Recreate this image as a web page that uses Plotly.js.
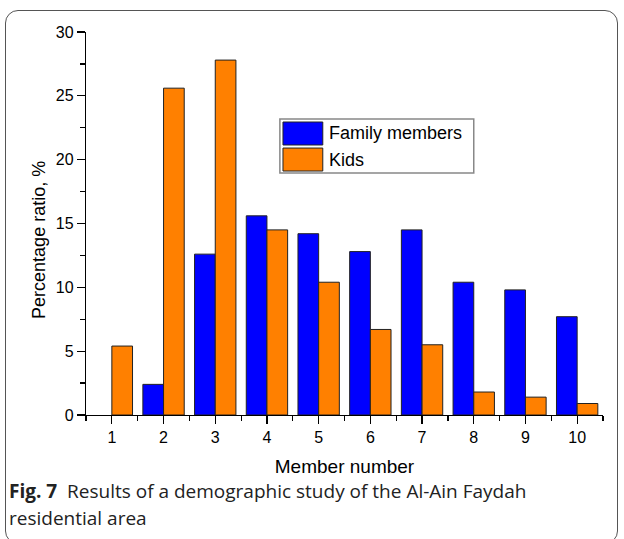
<!DOCTYPE html>
<html>
<head>
<meta charset="utf-8">
<script src="https://cdn.plot.ly/plotly-3.0.1.min.js"></script>
<style>
html,body{margin:0;padding:0;background:#fff;}
#frame{position:absolute;left:5px;top:10px;width:613px;height:534px;border:1px solid #555;border-radius:13px;box-sizing:border-box;}
#chart{position:absolute;left:0;top:0;width:624px;height:539px;}
</style>
</head>
<body>
<div id="frame"></div>
<div id="chart"></div>
<script>
const memberNumbers = [1, 2, 3, 4, 5, 6, 7, 8, 9, 10];
const familyMembers = [0, 2.4, 12.6, 15.6, 14.2, 12.8, 14.5, 10.4, 9.8, 7.7];
const kids = [5.4, 25.6, 27.8, 14.5, 10.4, 6.7, 5.5, 1.8, 1.4, 0.9];
const seriesNames = ["Family members", "Kids"];
const seriesColors = ["#0000FF", "#FF8000"];

const arial = "Arial, 'Liberation Sans', sans-serif";
const axisFont = {family: arial, size: 16, color: "#000"};
const outlineWidths = v => v.map(d => (d === 0 ? 0 : 1));

const traces = [
  {type: "bar", x: memberNumbers, y: familyMembers, name: seriesNames[0],
   marker: {color: seriesColors[0], line: {color: "#222", width: outlineWidths(familyMembers)}}, showlegend: false},
  {type: "bar", x: memberNumbers, y: kids, name: seriesNames[1],
   marker: {color: seriesColors[1], line: {color: "#222", width: outlineWidths(kids)}}, showlegend: false}
];

const layout = {
  width: 624, height: 539,
  margin: {l: 86, r: 21, t: 32, b: 124},
  paper_bgcolor: "rgba(0,0,0,0)",
  plot_bgcolor: "rgba(0,0,0,0)",
  barmode: "group", bargap: 0.2, bargroupgap: 0,
  xaxis: {
    range: [0.5, 10.5], tickmode: "array", tickvals: memberNumbers,
    ticks: "outside", ticklen: 8, tickwidth: 1.2, tickcolor: "#000",
    showline: true, linecolor: "#000", linewidth: 1.2, showgrid: false, zeroline: false,
    tickfont: axisFont,
    minor: {dtick: 0.5, tick0: 0.5, ticks: "outside", ticklen: 5, tickwidth: 1.2, tickcolor: "#000"},
    title: {text: "Member number", font: {family: arial, size: 19, color: "#000"}, standoff: 14}
  },
  yaxis: {
    range: [0, 30], dtick: 5,
    ticks: "outside", ticklen: 8, tickwidth: 1.2, tickcolor: "#000",
    showline: true, linecolor: "#000", linewidth: 1.2, showgrid: false, zeroline: false,
    tickfont: axisFont,
    minor: {dtick: 2.5, ticks: "outside", ticklen: 5, tickwidth: 1.2, tickcolor: "#000"}
  },
  shapes: [
    {type: "rect", xref: "paper", yref: "paper", x0: 0.375, x1: 0.750, y0: 0.632, y1: 0.773,
     line: {color: "#888", width: 1.5}, fillcolor: "#fff"},
    {type: "rect", xref: "paper", yref: "paper", x0: 0.381, x1: 0.458, y0: 0.705, y1: 0.765,
     line: {color: "#222", width: 1}, fillcolor: seriesColors[0]},
    {type: "rect", xref: "paper", yref: "paper", x0: 0.381, x1: 0.458, y0: 0.637, y1: 0.697,
     line: {color: "#222", width: 1}, fillcolor: seriesColors[1]}
  ],
  annotations: [
    {xref: "paper", yref: "paper", x: 0.466, y: 0.735, xanchor: "left", yanchor: "middle", showarrow: false,
     text: seriesNames[0], font: {family: arial, size: 18, color: "#000"}},
    {xref: "paper", yref: "paper", x: 0.466, y: 0.667, xanchor: "left", yanchor: "middle", showarrow: false,
     text: seriesNames[1], font: {family: arial, size: 18, color: "#000"}},
    {xref: "paper", yref: "paper", x: -0.091, y: 0.457, xanchor: "center", yanchor: "middle", showarrow: false,
     textangle: -90, text: "Percentage ratio, %", font: {family: arial, size: 18, color: "#000"}},
    {xref: "paper", yref: "paper", x: -0.153, y: -0.198, xanchor: "left", yanchor: "middle", showarrow: false,
     text: "<b>Fig. 7</b>  Results of a demographic study of the Al-Ain Faydah",
     font: {family: "'Open Sans', sans-serif", size: 19, color: "#222"}},
    {xref: "paper", yref: "paper", x: -0.153, y: -0.268, xanchor: "left", yanchor: "middle", showarrow: false,
     text: "residential area",
     font: {family: "'Open Sans', sans-serif", size: 19, color: "#222"}}
  ]
};

Plotly.newPlot("chart", traces, layout, {displayModeBar: false, staticPlot: true});
</script>
</body>
</html>
